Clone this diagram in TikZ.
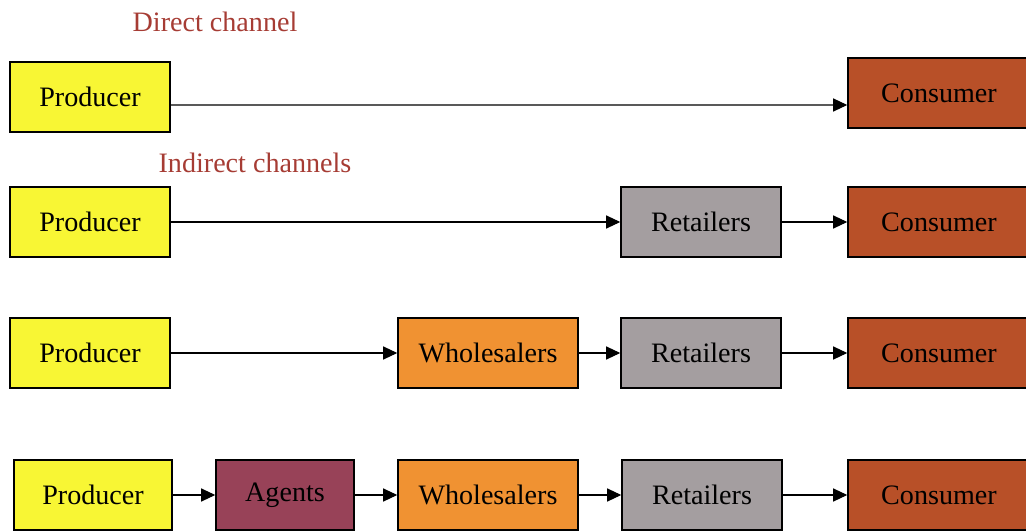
\documentclass[tikz,border=0pt]{standalone}
\usepackage{fontspec}
\setmainfont{Liberation Serif}
\usetikzlibrary{arrows.meta}
\definecolor{ch_yellow}{RGB}{248,246,52}
\definecolor{ch_agent}{RGB}{152,66,88}
\definecolor{ch_orange}{RGB}{240,146,50}
\definecolor{ch_grey}{RGB}{164,158,160}
\definecolor{ch_brick}{RGB}{184,80,40}
\definecolor{ch_title}{RGB}{166,60,52}

\tikzset{
  chbox/.style={draw=black, line width=0.9pt, minimum height=1.40cm,
    font=\fontsize{16}{19}\selectfont, text=black},
  chlabel/.style={ch_title, font=\fontsize{16}{19}\selectfont},
  charrow/.style={line width=0.6pt, -{Triangle[length=2.8mm,width=2.6mm]}}
}

\begin{document}
\begin{tikzpicture}[x=0.02cm, y=-0.02cm]
    % Page frame: 1026 x 530 units
    \useasboundingbox (0,0) rectangle (1026,530);
    \clip (0,0) rectangle (1026,530);

    % Titles
    \node[chlabel] (tdirect) at (215,22) {Direct channel};
    \node[chlabel] (tindirect) at (255,163) {Indirect channels};

    % Direct channel
    \node[chbox, fill=ch_yellow, minimum width=3.2cm] (prod1) at (90,97) {Producer};
    \node[chbox, fill=ch_brick, minimum width=3.64cm] (cons1) at (939,93) {Consumer};
    \draw[charrow] ([yshift=-0.16cm]prod1.east) -- ([yshift=-0.24cm]cons1.west);

    % Indirect: via retailers
    \node[chbox, fill=ch_yellow, minimum width=3.2cm] (prod2) at (90,222) {Producer};
    \node[chbox, fill=ch_grey, minimum width=3.2cm] (ret2) at (701,222) {Retailers};
    \node[chbox, fill=ch_brick, minimum width=3.64cm] (cons2) at (939,222) {Consumer};
    \draw[charrow] (prod2) -- (ret2);
    \draw[charrow] (ret2) -- (cons2);

    % Indirect: via wholesalers and retailers
    \node[chbox, fill=ch_yellow, minimum width=3.2cm] (prod3) at (90,353) {Producer};
    \node[chbox, fill=ch_orange, minimum width=3.6cm] (whole3) at (488,353) {Wholesalers};
    \node[chbox, fill=ch_grey, minimum width=3.2cm] (ret3) at (701,353) {Retailers};
    \node[chbox, fill=ch_brick, minimum width=3.64cm] (cons3) at (939,353) {Consumer};
    \draw[charrow] (prod3) -- (whole3);
    \draw[charrow] (whole3) -- (ret3);
    \draw[charrow] (ret3) -- (cons3);

    % Indirect: via agents, wholesalers and retailers
    \node[chbox, fill=ch_yellow, minimum width=3.16cm] (prod4) at (93,495) {Producer};
    \node[chbox, fill=ch_agent, minimum width=2.76cm] (agent4) at (285,495) {Agents};
    \node[chbox, fill=ch_orange, minimum width=3.6cm] (whole4) at (488,495) {Wholesalers};
    \node[chbox, fill=ch_grey, minimum width=3.2cm] (ret4) at (702,495) {Retailers};
    \node[chbox, fill=ch_brick, minimum width=3.64cm] (cons4) at (939,495) {Consumer};
    \draw[charrow] (prod4) -- (agent4);
    \draw[charrow] (agent4) -- (whole4);
    \draw[charrow] (whole4) -- (ret4);
    \draw[charrow] (ret4) -- (cons4);

\end{tikzpicture}
\end{document}
